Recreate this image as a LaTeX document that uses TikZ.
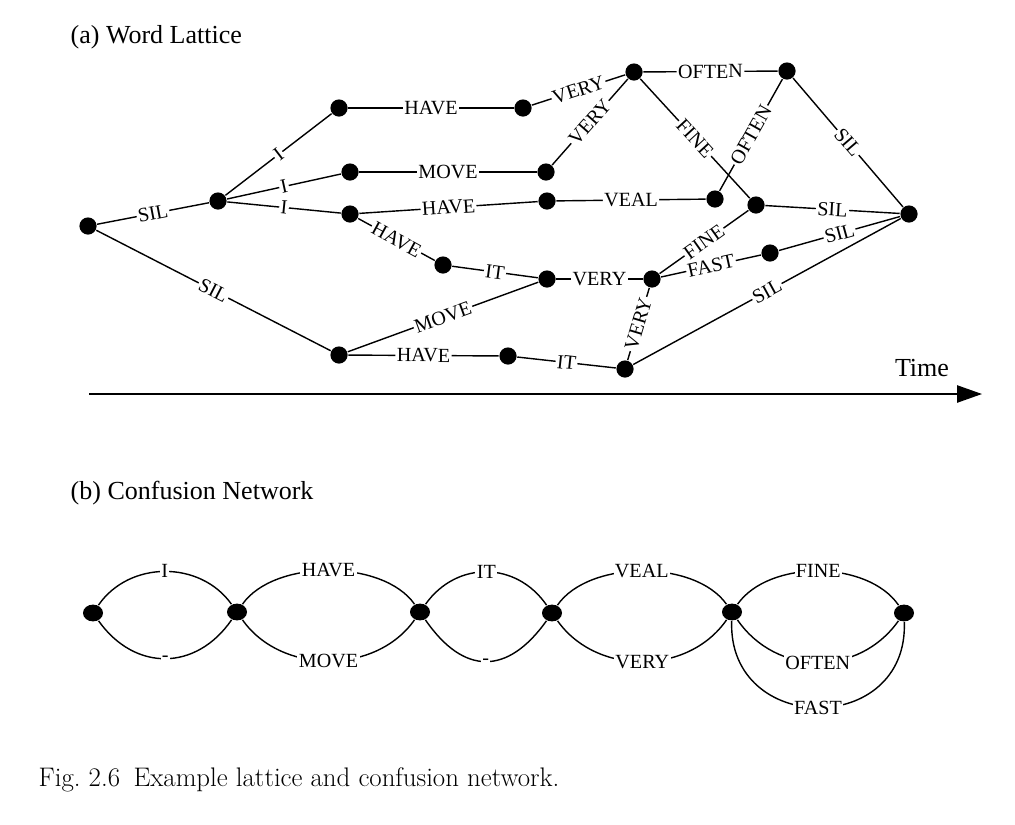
\documentclass[tikz,border=0pt]{standalone}
\usepackage{fontspec}
\usetikzlibrary{arrows.meta,shapes.geometric}
\newfontfamily\timesfont{Liberation Serif}

\begin{document}
\begin{tikzpicture}[x=0.025cm,y=0.025cm,line width=1pt,
    dot/.style={circle,fill,inner sep=0pt,minimum size=0.43cm},
    cdot/.style={ellipse,fill,inner sep=0pt,minimum width=0.5cm,minimum height=0.42cm},
    lab/.style={sloped,fill=white,inner sep=1pt,font=\timesfont\fontsize{14.3}{15}\selectfont},
    clab/.style={fill=white,inner sep=1pt,font=\timesfont\fontsize{14.3}{15}\selectfont},
    title/.style={anchor=west,inner sep=0pt,font=\timesfont\fontsize{18.5}{20}\selectfont}]
                    \useasboundingbox (0,0) rectangle (1015,-824);

                    % (a) word lattice
                    \node[title] (ta) at (70,-37) {(a) Word Lattice};
                    \path
                    (88,-226) node[dot](l0) {}
                    (218,-201) node[dot](l1) {}
                    (339,-108) node[dot](l2) {}
                    (350,-172) node[dot](l3) {}
                    (350,-214) node[dot](l4) {}
                    (523,-108) node[dot](l5) {}
                    (546,-172) node[dot](l6) {}
                    (547,-201) node[dot](l7) {}
                    (443,-265) node[dot](l8) {}
                    (547,-279) node[dot](l9) {}
                    (339,-355) node[dot](l10) {}
                    (508,-356) node[dot](l11) {}
                    (625,-369) node[dot](l12) {}
                    (652,-279) node[dot](l13) {}
                    (634,-72) node[dot](l14) {}
                    (787,-71) node[dot](l15) {}
                    (715,-199) node[dot](l16) {}
                    (756,-205) node[dot](l17) {}
                    (770,-253) node[dot](l18) {}
                    (909,-214) node[dot](l19) {};

                    \draw (l0) -- node[lab] {SIL} (l1);
                    \draw (l0) -- node[lab] {SIL} (l10);
                    \draw (l1) -- node[lab] {I} (l2);
                    \draw (l1) -- node[lab] {I} (l3);
                    \draw (l1) -- node[lab] {I} (l4);
                    \draw (l2) -- node[lab] {HAVE} (l5);
                    \draw (l3) -- node[lab] {MOVE} (l6);
                    \draw (l4) -- node[lab] {HAVE} (l7);
                    \draw (l4) -- node[lab] {HAVE} (l8);
                    \draw (l5) -- node[lab] {VERY} (l14);
                    \draw (l6) -- node[lab] {VERY} (l14);
                    \draw (l7) -- node[lab] {VEAL} (l16);
                    \draw (l8) -- node[lab] {IT} (l9);
                    \draw (l9) -- node[lab] {VERY} (l13);
                    \draw (l10) -- node[lab] {MOVE} (l9);
                    \draw (l10) -- node[lab] {HAVE} (l11);
                    \draw (l11) -- node[lab] {IT} (l12);
                    \draw (l12) -- node[lab] {VERY} (l13);
                    \draw (l12) -- node[lab] {SIL} (l19);
                    \draw (l14) -- node[lab] {FINE} (l17);
                    \draw (l16) -- node[lab] {OFTEN} (l15);
                    \draw (l13) -- node[lab] {FINE} (l17);
                    \draw (l13) -- node[lab] {FAST} (l18);
                    \draw (l14) -- node[lab] {OFTEN} (l15);
                    \draw (l15) -- node[lab] {SIL} (l19);
                    \draw (l17) -- node[lab] {SIL} (l19);
                    \draw (l18) -- node[lab] {SIL} (l19);

                    % time axis
                    \coordinate (t0) at (89,-394);
                    \coordinate (t1) at (982,-394);
                    \draw[-{Triangle[length=0.62cm,width=0.43cm]}] (t0) -- (t1);
                    \node[title,anchor=center] (time) at (922,-368) {Time};

                    % (b) confusion network
                    \node[title] (tb) at (70,-493) {(b) Confusion Network};
                    \path
                    (93,-613) node[cdot](c0) {}
                    (237,-612) node[cdot](c1) {}
                    (420,-612) node[cdot](c2) {}
                    (552,-613) node[cdot](c3) {}
                    (732,-612) node[cdot](c4) {}
                    (904,-613) node[cdot](c5) {};

                    \draw (c0) to[bend left=55,looseness=1.04] node[clab] {I} (c1);
                    \draw (c0) to[bend right=55,looseness=1.2] node[clab] {-} (c1);
                    \draw (c1) to[bend left=55,looseness=0.82] node[clab] {HAVE} (c2);
                    \draw (c1) to[bend right=55,looseness=1.0] node[clab] {MOVE} (c2);
                    \draw (c2) to[bend left=55,looseness=1.13] node[clab] {IT} (c3);
                    \draw (c2) to[bend right=55,looseness=1.42] node[clab] {-} (c3);
                    \draw (c3) to[bend left=55,looseness=0.83] node[clab] {VEAL} (c4);
                    \draw (c3) to[bend right=55,looseness=1.02] node[clab] {VERY} (c4);
                    \draw (c4) to[bend left=55,looseness=0.87] node[clab] {FINE} (c5);
                    \draw (c4) to[bend right=55,looseness=1.09] node[clab] {OFTEN} (c5);
                    \draw (c4) to[out=-92,in=-88,looseness=1.7] node[clab] {FAST} (c5);

                    % caption
                    \node[anchor=base west,inner sep=0pt,font=\fontsize{19.1}{22}\selectfont] (cap) at (38,-786) {Fig.~2.6\enspace Example lattice and confusion network.};
                \end{tikzpicture}
\end{document}
